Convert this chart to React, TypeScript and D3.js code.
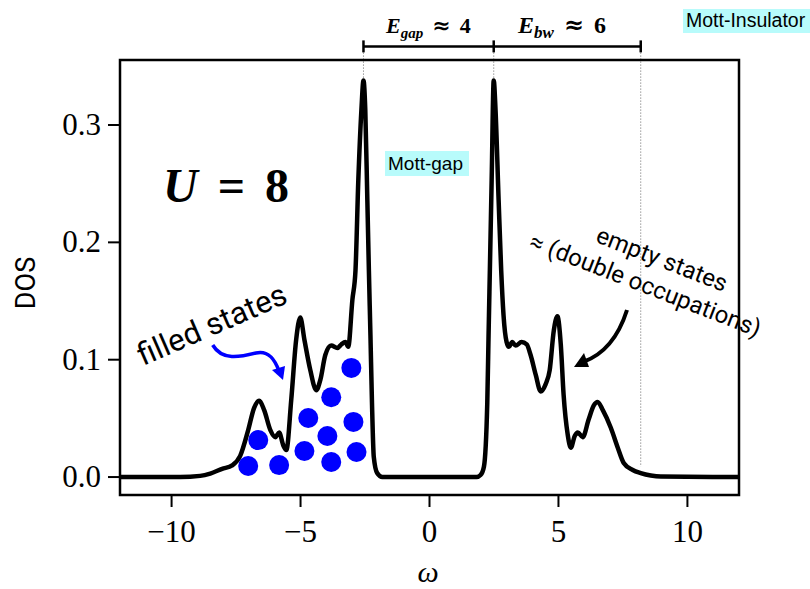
import React from "react";
import * as d3 from "d3";

// density of states (omega, DOS)
const omega = [
  -12.0, -9.67, -8.89, -8.5, -8.04, -7.65, -7.34, -7.03, -6.8, -6.6, -6.41, -6.17, -5.98, -5.83,
  -5.67, -5.55, -5.36, -5.17, -5.01, -4.85, -4.62, -4.39, -4.23, -4.04, -3.81, -3.57, -3.42,
  -3.26, -3.15, -2.99, -2.87, -2.76, -2.64, -2.56, -2.49, -2.41, -2.35, -2.29, -2.23, -2.16,
  -2.03, -1.83,
  1.83, 1.98, 2.11, 2.24, 2.29, 2.34, 2.41, 2.49, 2.56, 2.68, 2.78, 2.87, 2.99, 3.08, 3.21, 3.34,
  3.57, 3.77, 3.92, 4.12, 4.31, 4.5, 4.66, 4.82, 4.96, 5.09, 5.2, 5.36, 5.48, 5.63, 5.75, 5.94,
  6.17, 6.37, 6.52, 6.72, 7.03, 7.3, 7.53, 7.88, 8.19, 8.58, 8.97, 12.0,
];
const dos = [
  0, 0, 0.001, 0.003, 0.007, 0.01, 0.018, 0.04, 0.059, 0.065, 0.057, 0.04, 0.034, 0.038,
  0.027, 0.023, 0.066, 0.117, 0.136, 0.117, 0.091, 0.074, 0.083, 0.104, 0.112, 0.11, 0.113,
  0.115, 0.111, 0.151, 0.176, 0.253, 0.313, 0.338, 0.313, 0.236, 0.176, 0.121, 0.063, 0.017,
  0.0034, 0,
  0, 0.0017, 0.0088, 0.063, 0.121, 0.176, 0.253, 0.338, 0.313, 0.236, 0.176, 0.138, 0.115, 0.111,
  0.115, 0.112, 0.115, 0.113, 0.104, 0.087, 0.073, 0.079, 0.091, 0.125, 0.137, 0.113, 0.07,
  0.036, 0.025, 0.035, 0.038, 0.034, 0.049, 0.061, 0.064, 0.057, 0.042, 0.025, 0.012, 0.006,
  0.0034, 0.0013, 0.0004, 0,
];

// "filled states" markers
const dotOmega = [-7.03, -5.83, -6.64, -4.85, -3.81, -3.96, -4.7, -3.81, -2.95, -2.83, -3.03];
const dotDos = [0.0094, 0.0102, 0.0315, 0.0222, 0.0128, 0.035, 0.0503, 0.068, 0.047, 0.0213, 0.093];

const xTicks = [-10, -5, 0, 5, 10];
const yTicks = [0, 0.1, 0.2, 0.3];

// gap / bandwidth bracket
const bracketOmega = [-2.56, 2.49, 8.19];
const bracketDrop = [0.338, 0.338, 0.009];
const bracketDos = 0.367;

const W = 810;
const H = 589;
const left = 120, right = 739, top = 60, bottom = 495;

export default function App() {
  const x = d3.scaleLinear().domain([-12, 12]).range([left, right]);
  const y = d3.scaleLinear().domain([-0.0153, 0.3554]).range([bottom, top]);

  const pts = omega.map((w, i) => [w, dos[i]] as [number, number]);
  const line = d3
    .line<[number, number]>()
    .x((d) => x(d[0]))
    .y((d) => y(d[1]))
    .curve(d3.curveMonotoneX);

  const fmtY = d3.format(".1f");
  const fmtX = d3.format("d");
  const serif = "'Liberation Serif', 'DejaVu Serif', serif";
  const sans = "'Liberation Sans', Arial, sans-serif";
  const by = y(bracketDos);

  return (
    <svg width={W} height={H} style={{ position: "absolute", left: 0, top: 0, background: "#fff" }}>
      {/* dotted guides from the bracket down to the curve */}
      {bracketOmega.map((w, i) => (
        <line
          key={"g" + i}
          x1={x(w)}
          x2={x(w)}
          y1={by + 6}
          y2={y(bracketDrop[i])}
          stroke="#999"
          strokeWidth={1}
          strokeDasharray="1.5,1.5"
        />
      ))}

      {/* curve */}
      <path d={line(pts) || ""} fill="none" stroke="#000" strokeWidth={4.5} strokeLinejoin="round" />

      {/* filled states dots */}
      {dotOmega.map((w, i) => (
        <circle key={"d" + i} cx={x(w)} cy={y(dotDos[i])} r={10} fill="#0000ff" />
      ))}

      {/* frame */}
      <rect x={left} y={top} width={right - left} height={bottom - top} fill="none" stroke="#000" strokeWidth={2.5} />

      {/* ticks */}
      {xTicks.map((t) => (
        <g key={"x" + t}>
          <line x1={x(t)} x2={x(t)} y1={bottom} y2={bottom + 12} stroke="#000" strokeWidth={2} />
          <text x={x(t)} y={542} textAnchor="middle" fontFamily={serif} fontSize={31}>
            {fmtX(t)}
          </text>
        </g>
      ))}
      {yTicks.map((t) => (
        <g key={"y" + t}>
          <line x1={left - 12} x2={left} y1={y(t)} y2={y(t)} stroke="#000" strokeWidth={2} />
          <text x={101} y={y(t) + 10} textAnchor="end" fontFamily={serif} fontSize={31}>
            {fmtY(t)}
          </text>
        </g>
      ))}

      {/* axis labels */}
      <text x={428} y={582} textAnchor="middle" fontFamily={serif} fontStyle="italic" fontSize={30}>
        ω
      </text>
      <text
        transform="translate(35,283) rotate(-90)"
        textAnchor="middle"
        fontFamily="Roboto, sans-serif"
        fontSize={27}
      >
        DOS
      </text>

      {/* bracket */}
      <line x1={x(bracketOmega[0])} x2={x(bracketOmega[2])} y1={by} y2={by} stroke="#000" strokeWidth={2.5} />
      {bracketOmega.map((w, i) => (
        <line key={"b" + i} x1={x(w)} x2={x(w)} y1={by - 6} y2={by + 6} stroke="#000" strokeWidth={2.5} />
      ))}
      <text x={386} y={33} fontFamily={serif} fontWeight="bold" fontSize={22}>
        <tspan fontStyle="italic">E</tspan>
        <tspan fontStyle="italic" fontSize={15} dy={5}>gap</tspan>
        <tspan dy={-5} dx={9} fontFamily="'DejaVu Serif', serif" fontSize={22}>≈</tspan>
        <tspan dx={9}>4</tspan>
      </text>
      <text x={518} y={33} fontFamily={serif} fontWeight="bold" fontSize={24}>
        <tspan fontStyle="italic">E</tspan>
        <tspan fontStyle="italic" fontSize={17} dy={5}>bw</tspan>
        <tspan dy={-5} dx={10} fontFamily="'DejaVu Serif', serif" fontSize={24}>≈</tspan>
        <tspan dx={10}>6</tspan>
      </text>

      {/* U = 8 */}
      <text x={163} y={202} fontFamily={serif} fontWeight="bold" fontSize={48}>
        <tspan fontStyle="italic">U</tspan>
        <tspan dx={20}>=</tspan>
        <tspan dx={20}>8</tspan>
      </text>

      {/* boxed labels */}
      <rect x={385} y={151} width={84} height={25} fill="#b8fbfb" />
      <text x={388} y={170} fontFamily={sans} fontSize={19}>
        Mott-gap
      </text>
      <rect x={683} y={9} width={127} height={24} fill="#b8fbfb" />
      <text x={686} y={27} fontFamily={sans} fontSize={19.5}>
        Mott-Insulator
      </text>

      {/* filled states annotation */}
      <text
        transform="translate(143,366) rotate(-23.5)"
        fontFamily="Roboto, sans-serif"
        fontSize={31}
      >
        filled states
      </text>
      <path
        d="M212.7,345 C222,361 240,357 256,353 C269,350 275,360 279,371"
        fill="none"
        stroke="#0000ff"
        strokeWidth={3.5}
      />
      <path d="M283,380 L272,370 L285,366 Z" fill="#0000ff" />

      {/* empty states annotation */}
      <g transform="translate(659,266.7) rotate(21.3)" fontFamily="Roboto, sans-serif" fontSize={24} textAnchor="middle">
        <text x={0} y={0}>empty states</text>
        <text x={-6} y={30}>≈ (double occupations)</text>
      </g>
      <path d="M627,310 Q614,351 583,362" fill="none" stroke="#000" strokeWidth={4} />
      <path d="M574,367 L584,353 L589,367 Z" fill="#000" />
    </svg>
  );
}
